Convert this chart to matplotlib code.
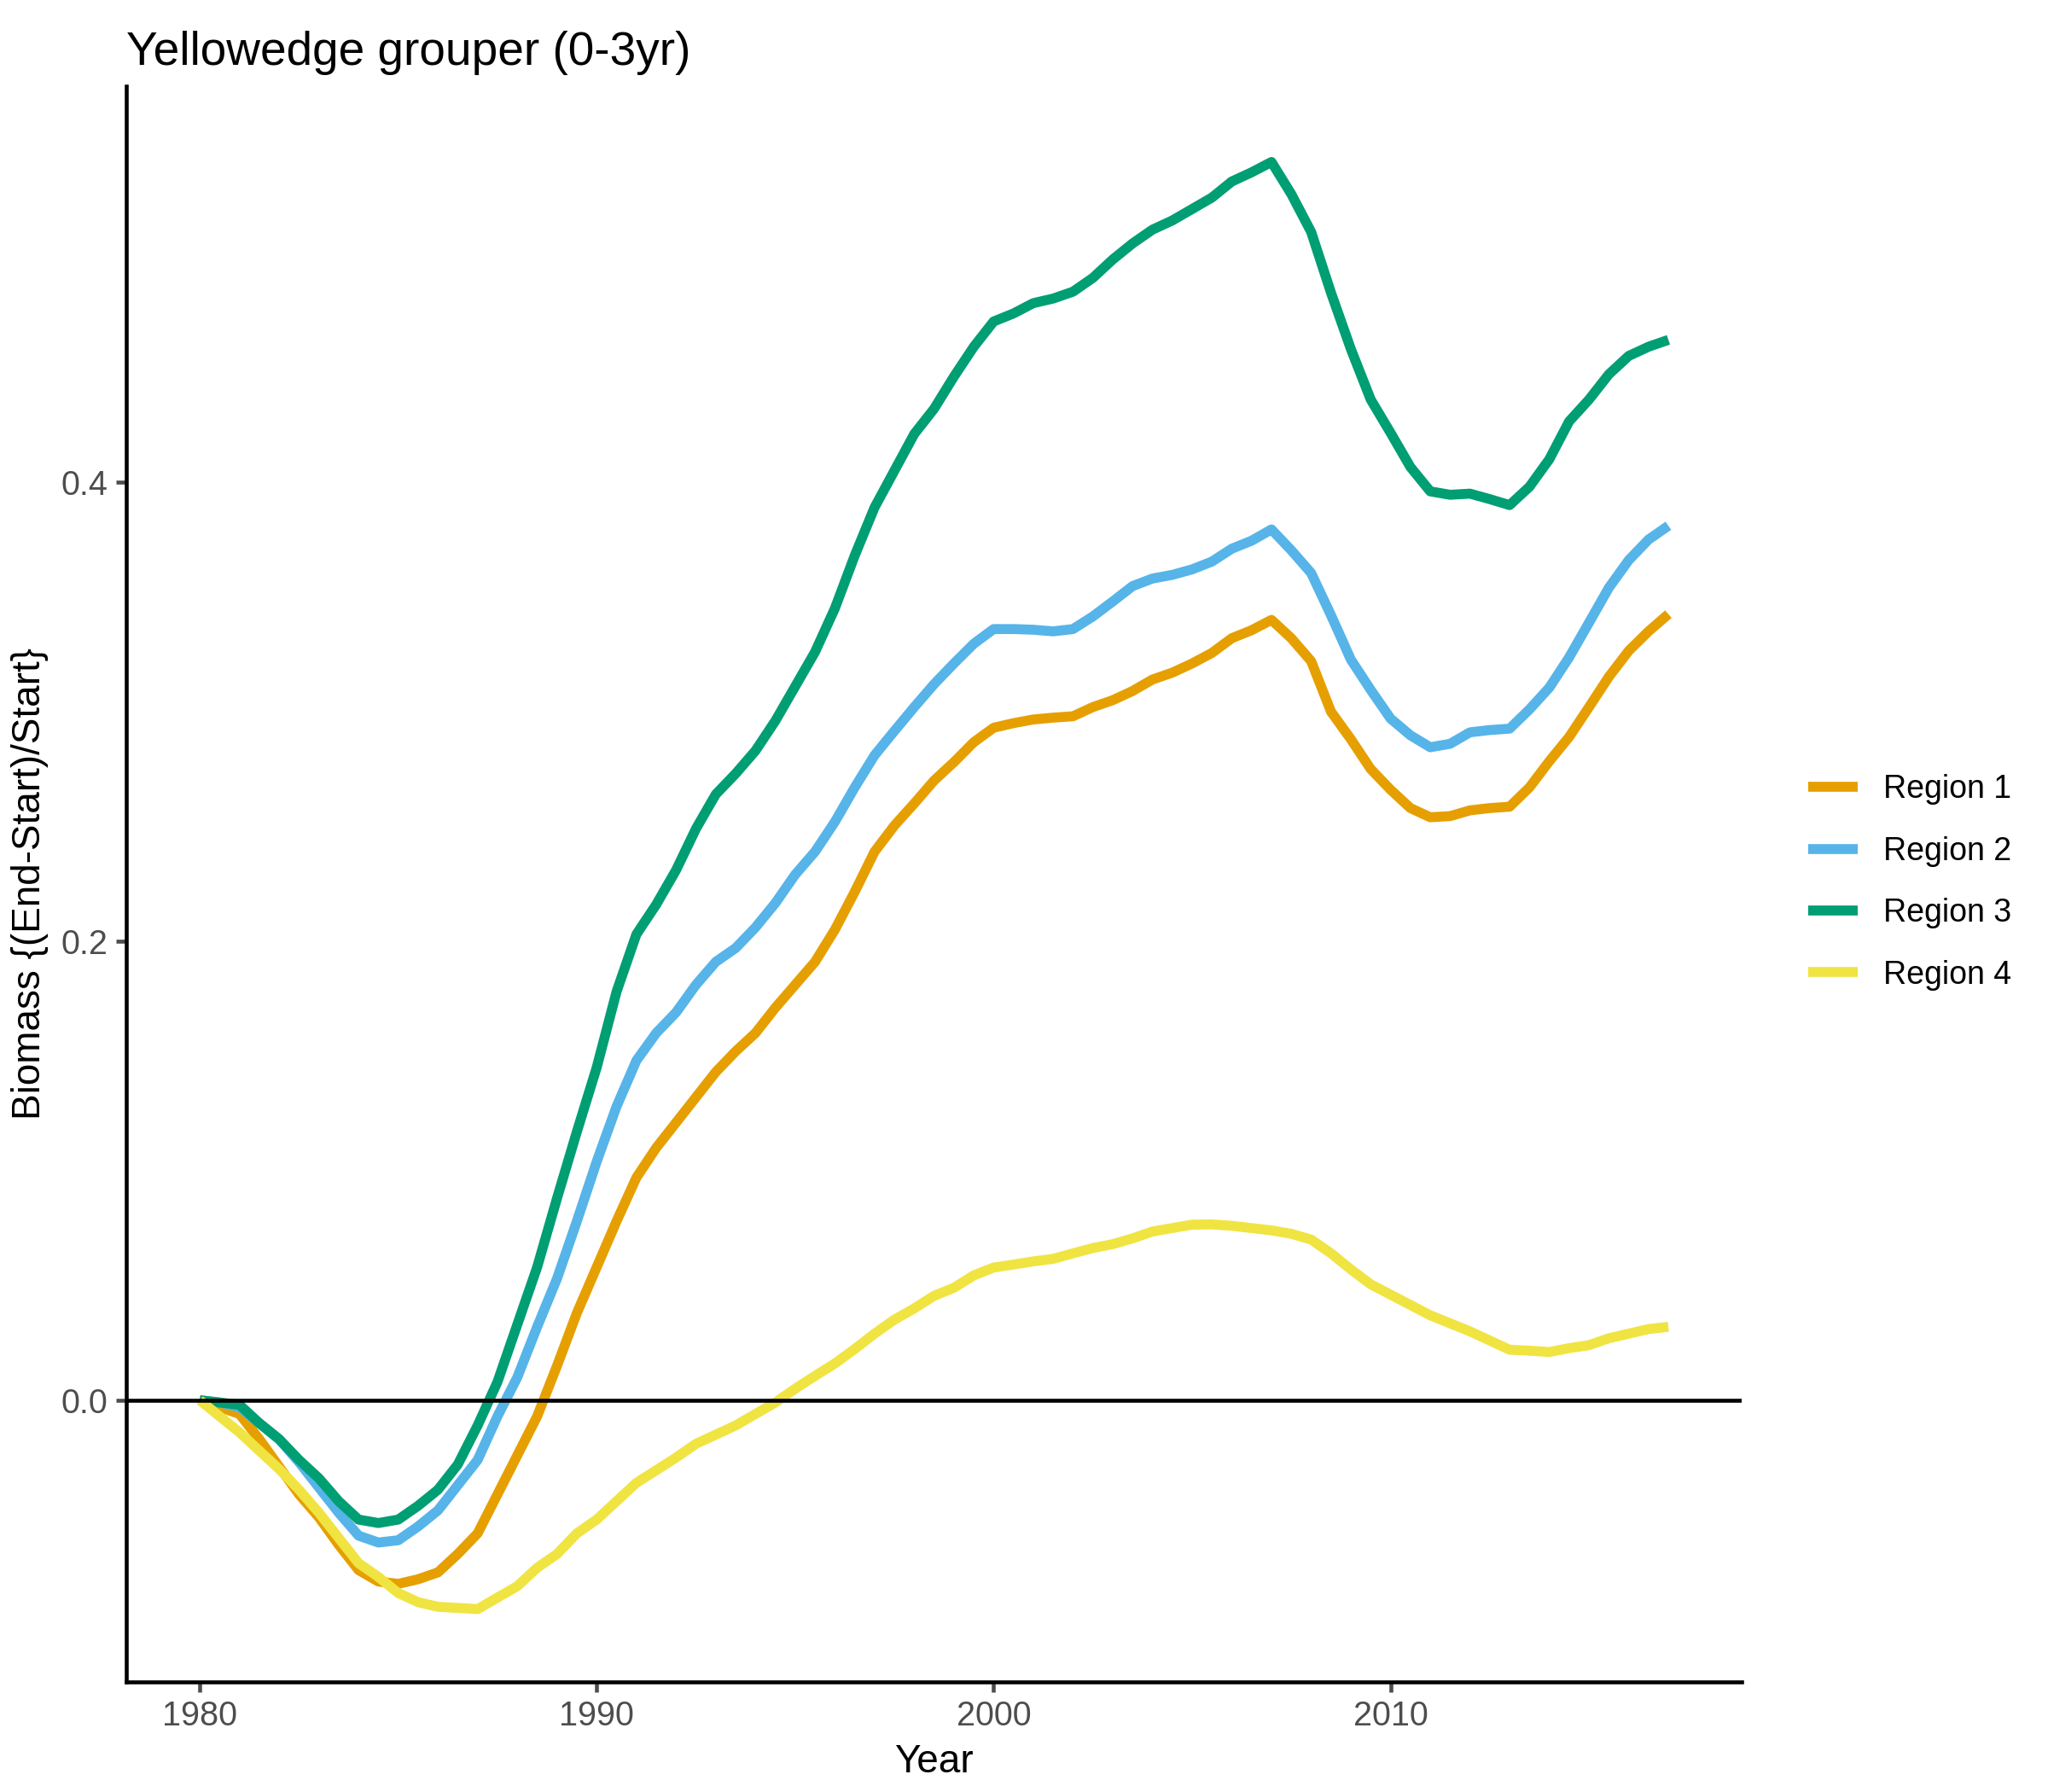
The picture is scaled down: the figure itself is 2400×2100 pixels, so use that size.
import matplotlib.pyplot as plt
from matplotlib.ticker import FormatStrFormatter

plt.rcParams['font.family'] = ['Liberation Sans', 'DejaVu Sans']

# half-year steps, 1980 to 2017
years = [1980 + 0.5 * i for i in range(75)]

region1 = [
0.000, -0.003, -0.006, -0.017, -0.029, -0.041, -0.051, -0.063, -0.074, -0.079,
-0.080, -0.078, -0.075, -0.067, -0.058, -0.041, -0.024, -0.007, 0.015, 0.038,
0.058, 0.078, 0.097, 0.110, 0.121, 0.132, 0.143, 0.152, 0.160, 0.171,
0.181, 0.191, 0.205, 0.2215, 0.239, 0.2504, 0.260, 0.270, 0.278, 0.2867,
0.293, 0.295, 0.2966, 0.2974, 0.298, 0.302, 0.305, 0.309, 0.314, 0.317,
0.321, 0.3256, 0.332, 0.3355, 0.340, 0.332, 0.322, 0.300, 0.288, 0.275,
0.266, 0.258, 0.254, 0.2545, 0.257, 0.258, 0.2586, 0.267, 0.2784, 0.289,
0.302, 0.3152, 0.3265, 0.335, 0.3425
]

region2 = [
0.000, -0.001, -0.003, -0.010, -0.017, -0.027, -0.038, -0.049, -0.059, -0.062,
-0.061, -0.055, -0.048, -0.037, -0.026, -0.007, 0.010, 0.032, 0.053, 0.078,
0.104, 0.128, 0.148, 0.160, 0.169, 0.181, 0.191, 0.197, 0.206, 0.2166,
0.229, 0.239, 0.252, 0.267, 0.281, 0.2916, 0.302, 0.312, 0.321, 0.3296,
0.336, 0.336, 0.3357, 0.335, 0.336, 0.3415, 0.348, 0.3547, 0.358, 0.3596,
0.362, 0.3654, 0.371, 0.3745, 0.3794, 0.3703, 0.3604, 0.342, 0.3227, 0.3095,
0.297, 0.2897, 0.2845, 0.286, 0.291, 0.292, 0.2926, 0.301, 0.3105, 0.3237,
0.3388, 0.354, 0.366, 0.375, 0.381
]

region3 = [
0.000, -0.001, -0.002, -0.010, -0.017, -0.026, -0.034, -0.044, -0.052, -0.0535,
-0.052, -0.046, -0.039, -0.028, -0.011, 0.008, 0.033, 0.058, 0.088, 0.117,
0.145, 0.178, 0.203, 0.216, 0.231, 0.249, 0.264, 0.273, 0.283, 0.296,
0.311, 0.326, 0.345, 0.368, 0.389, 0.405, 0.421, 0.432, 0.446, 0.459,
0.470, 0.4735, 0.478, 0.480, 0.483, 0.489, 0.497, 0.504, 0.510, 0.514,
0.519, 0.524, 0.531, 0.535, 0.5395, 0.5255, 0.509, 0.4825, 0.458, 0.436,
0.4215, 0.4066, 0.396, 0.3945, 0.395, 0.3926, 0.390, 0.398, 0.410, 0.4265,
0.436, 0.447, 0.455, 0.459, 0.462
]

region4 = [
0.000, -0.007, -0.014, -0.022, -0.030, -0.039, -0.049, -0.060, -0.071, -0.077,
-0.084, -0.088, -0.090, -0.0905, -0.091, -0.086, -0.081, -0.073, -0.067, -0.058,
-0.052, -0.044, -0.036, -0.0305, -0.025, -0.019, -0.015, -0.011, -0.006, -0.001,
0.005, 0.0106, 0.016, 0.0223, 0.029, 0.0351, 0.040, 0.0455, 0.049, 0.0544,
0.0578, 0.0591, 0.0605, 0.0616, 0.064, 0.0663, 0.068, 0.0705, 0.0735, 0.075,
0.0765, 0.0766, 0.076, 0.075, 0.074, 0.0725, 0.070, 0.064, 0.057, 0.0505,
0.046, 0.0415, 0.037, 0.0335, 0.030, 0.026, 0.022, 0.0216, 0.021, 0.0227,
0.024, 0.027, 0.029, 0.031, 0.032
]

fig = plt.figure(figsize=(8, 7), dpi=300)
ax = fig.add_axes([0.0617, 0.0616, 0.7888, 0.8904])

lw = 2.8
ax.plot(years, region1, color="#E69F00", lw=lw, solid_capstyle="butt", label="Region 1")
ax.plot(years, region2, color="#56B4E9", lw=lw, solid_capstyle="butt", label="Region 2")
ax.plot(years, region3, color="#009E73", lw=lw, solid_capstyle="butt", label="Region 3")
ax.plot(years, region4, color="#F0E442", lw=lw, solid_capstyle="butt", label="Region 4")
ax.axhline(0, color="black", lw=1.1, zorder=5)

ax.set_xlim(1978.15, 2018.85)
ax.set_ylim(-0.1226, 0.5726)
ax.set_xticks([1980, 1990, 2000, 2010])
ax.set_yticks([0.0, 0.2, 0.4])
ax.yaxis.set_major_formatter(FormatStrFormatter('%.1f'))

for s in ['top', 'right']:
    ax.spines[s].set_visible(False)
for s in ['left', 'bottom']:
    ax.spines[s].set_linewidth(1.1)
    ax.spines[s].set_color("black")
ax.tick_params(colors="#4D4D4D", labelsize=9.5, length=2.9, width=1.1, pad=2.3)

ax.set_xlabel("Year", fontsize=11, labelpad=3)
ax.set_ylabel("Biomass {(End-Start)/Start}", fontsize=11, labelpad=3.5)
ax.set_title("Yellowedge grouper (0-3yr)", fontsize=13.2, loc="left", pad=6)

fig.legend(loc="center left", bbox_to_anchor=(0.869, 0.5076), frameon=False,
           fontsize=9, handlelength=1.55, labelspacing=0.97, handletextpad=0.8)

fig.savefig("out.png")
